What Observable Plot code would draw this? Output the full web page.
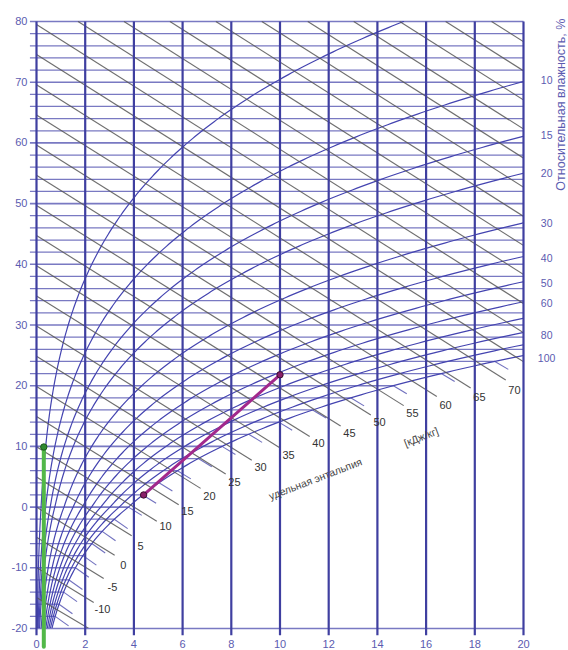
<!DOCTYPE html>
<html><head><meta charset="utf-8">
<script src="https://cdn.jsdelivr.net/npm/d3@7"></script>
<script src="https://cdn.jsdelivr.net/npm/@observablehq/plot@0.6"></script>
<style>html,body{margin:0;padding:0;background:#fff;}</style>
</head><body><div id="chart"></div>
<script>
// ---- data ----
const xTicks = [0, 2, 4, 6, 8, 10, 12, 14, 16, 18, 20];            // влагосодержание, г/кг
const tTicks = [-20, -10, 0, 10, 20, 30, 40, 50, 60, 70, 80];        // температура, °C
const isotherms = [-20,-18,-16,-14,-12,-10,-8,-6,-4,-2,0,2,4,6,8,10,12,14,16,18,20,22,24,26,28,30,
  32,34,36,38,40,42,44,46,48,50,52,54,56,58,60,62,64,66,68,70,72,74,76,78,80];
const enthalpyLevels = [-20,-15,-10,-5,0,5,10,15,20,25,30,35,40,45,50,55,60,65,70,75,80,85,90,95,100,105,110,115,120,125,130];
const enthLabelValue = [-10, -5, 0, 5, 10, 15, 20, 25, 30, 35, 40, 45, 50, 55, 60, 65, 70];
const enthLabelX = [2.71, 3.12, 3.57, 4.27, 5.30, 6.20, 7.10, 8.13, 9.20, 10.35, 11.58, 12.85, 14.09, 15.44, 16.80, 18.19, 19.63];
const enthLabelT = [-16.8, -13.3, -9.6, -6.5, -3.2, -0.8, 1.7, 4.0, 6.5, 8.5, 10.5, 12.1, 13.9, 15.4, 16.8, 18.1, 19.2];
const rhLevels = [5, 10, 15, 20, 30, 40, 50, 60, 70, 80, 90, 100];   // %
const rhLabels = [10, 15, 20, 30, 40, 50, 60, 80, 100];
const rhLabelT = [70.2, 61.2, 54.9, 46.7, 40.9, 36.8, 33.5, 28.3, 24.5];
const pinkX = [4.4, 10.0], pinkT = [2.0, 21.8];
const greenX = [0.3, 0.3], greenT = [9.9, -23.0];

// ---- psychrometric relations (define the shape of the chart's curves) ----
const P = 101325;
function pSat(t) { return t >= 0 ? 611.2 * Math.exp(17.62 * t / (243.12 + t)) : 611.2 * Math.exp(22.46 * t / (272.62 + t)); }
function xMoist(t, phi) { const p = phi * pSat(t); return 622 * p / (P - p); }
function tFromH(h, x) { return (h - 2.501 * x) / (1.006 + 0.00186 * x); }

// isotherms (horizontal), ending on the saturation curve
const isoSegs = isotherms.map(t => {
  const xe = (t === -20 || t === 80) ? 20 : Math.min(20, xMoist(t, 1));
  return {t, x1: -0.27, x2: xe, major: t % 10 === 0};
});
// fog-region continuation of isotherms
const stubs = isotherms.filter(t => t > -20 && xMoist(t, 1) < 20).map(t => {
  const xs = xMoist(t, 1), L = 0.55;
  const slope = t >= 0 ? -(2.501 - 0.00419 * t) / 1.006 : -(2.834 - 0.00205 * t) / 1.006;
  return {x1: xs, y1: t, x2: xs + L, y2: t + slope * L};
});
// enthalpy lines
const enthSegs = enthalpyLevels.map(h => {
  const x1 = tFromH(h, 0) <= 80 ? 0 : (h - 80.48) / (2.501 + 0.1488);
  const i = enthLabelValue.indexOf(h);
  const x2 = i >= 0 ? enthLabelX[i] - 0.36 : 20;
  return {x1, y1: tFromH(h, x1), x2, y2: tFromH(h, x2)};
});
// relative humidity curves
const rhPts = [];
for (const phi of rhLevels) {
  for (let k = 0; k <= 400; k++) {
    const t = -20 + k * 0.25;
    const x = xMoist(t, phi / 100);
    rhPts.push({phi, t, x});
    if (x > 20.5) break;
  }
}
const enthLabels = enthLabelValue.map((v, i) => ({v, x: enthLabelX[i], t: enthLabelT[i]}));
const rhLab = rhLabels.map((v, i) => ({v, t: rhLabelT[i]}));
const pink = pinkX.map((x, i) => ({x, t: pinkT[i]}));
const green = greenX.map((x, i) => ({x, t: greenT[i]}));

const blue = "#3f3fa0", textBlue = "#5b5bb0";
const chart = Plot.plot({
  width: 568, height: 650,
  marginLeft: 36, marginRight: 45, marginTop: 21, marginBottom: 22,
  x: {domain: [0, 20], axis: null},
  y: {domain: [-20, 80], axis: null},
  style: {fontFamily: "Liberation Sans, Arial, sans-serif", background: "#fff", overflow: "visible"},
  marks: [
    Plot.link(isoSegs, {x1: "x1", x2: "x2", y1: "t", y2: "t", stroke: "#4c4cae", strokeOpacity: 0.75, strokeWidth: d => d.major ? 1.6 : 1.25}),
    Plot.link(stubs, {x1: "x1", y1: "y1", x2: "x2", y2: "y2", stroke: "#4c4cae", strokeWidth: 1.1, strokeOpacity: 0.8}),
    Plot.line(rhPts, {x: "x", y: "t", z: "phi", stroke: "#4444b0", strokeWidth: 1.2, clip: true}),
    Plot.link(enthSegs, {x1: "x1", y1: "y1", x2: "x2", y2: "y2", stroke: "#555", strokeWidth: 1.15, strokeOpacity: 0.85, clip: true}),
    Plot.link(xTicks, {x1: d => d, x2: d => d, y1: -21.1, y2: 80, stroke: blue, strokeWidth: 2.2}),
    Plot.text(tTicks, {x: 0, y: d => d, dx: -9, textAnchor: "end", fill: textBlue, fontSize: 11}),
    Plot.text(xTicks, {x: d => d, y: -20, dy: 16, fill: textBlue, fontSize: 11}),
    Plot.text(rhLab, {x: 20.95, y: "t", text: "v", fill: textBlue, fontSize: 10.5}),
    Plot.text(["Относительная влажность, %"], {x: 21.55, y: 66.3, rotate: -90, fill: textBlue, fontSize: 12.5}),
    Plot.text(enthLabels, {x: "x", y: "t", text: "v", fill: "#333", fontSize: 11}),
    Plot.text(["удельная энтальпия"], {x: 11.46, y: 4.6, rotate: -21, fill: "#444", fontSize: 10.5}),
    Plot.text(["[кДж/кг]"], {x: 15.8, y: 11.5, rotate: -21, fill: "#444", fontSize: 10.5}),
    Plot.line(green, {x: "x", y: "t", stroke: "#52b848", strokeWidth: 4}),
    Plot.dot(green.slice(0, 1), {x: "x", y: "t", r: 3.2, fill: "#2f8a2f", stroke: "#1d5a1d", strokeWidth: 1}),
    Plot.line(pink, {x: "x", y: "t", stroke: "#a2288c", strokeWidth: 3}),
    Plot.dot(pink, {x: "x", y: "t", r: 3.2, fill: "#8a1f6a", stroke: "#3a1030", strokeWidth: 1})
  ]
});
document.getElementById("chart").appendChild(chart);
</script>
</body></html>
